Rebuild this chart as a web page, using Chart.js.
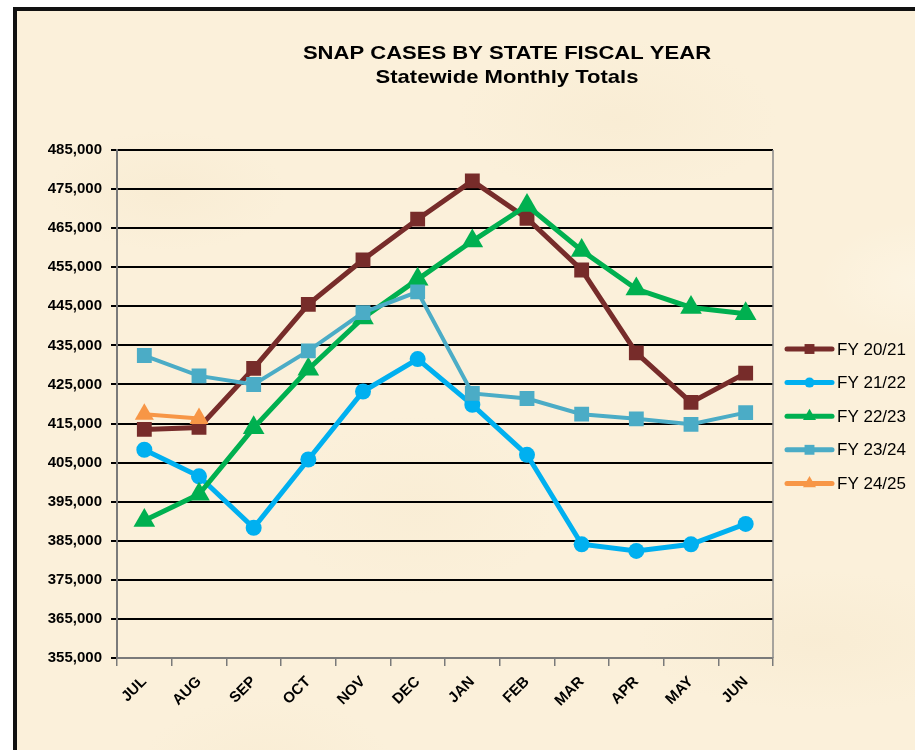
<!DOCTYPE html>
<html>
<head>
<meta charset="utf-8">
<title>SNAP Cases by State Fiscal Year</title>
<script src="https://cdn.jsdelivr.net/npm/chart.js@4.4.1/dist/chart.umd.min.js"></script>
<style>
  html, body { margin: 0; padding: 0; background: #fff; }
  #frame {
    position: absolute; left: 13px; top: 7px; width: 1000px; height: 900px;
    border-left: 4px solid #111; border-top: 4px solid #111;
    background-color: #fbf0da;
    background-image:
      radial-gradient(ellipse 120px 60px at 15% 20%, rgba(238,220,184,0.18), transparent),
      radial-gradient(ellipse 160px 80px at 60% 12%, rgba(240,224,190,0.2), transparent),
      radial-gradient(ellipse 140px 90px at 40% 55%, rgba(240,222,186,0.15), transparent),
      radial-gradient(ellipse 180px 70px at 80% 70%, rgba(238,220,184,0.18), transparent),
      radial-gradient(ellipse 130px 80px at 25% 85%, rgba(240,222,186,0.18), transparent),
      radial-gradient(ellipse 100px 60px at 90% 30%, rgba(255,250,238,0.4), transparent);
  }
  #chart { position: absolute; left: 0; top: 0; }
</style>
</head>
<body>
<div id="frame"></div>
<canvas id="chart" width="915" height="750"></canvas>
<script>
// --- data ---
const months = ['JUL', 'AUG', 'SEP', 'OCT', 'NOV', 'DEC', 'JAN', 'FEB', 'MAR', 'APR', 'MAY', 'JUN'];
const fy2021 = [413500, 414000, 429100, 445500, 456900, 467300, 477100, 467500, 454300, 433100, 420400, 427900];
const fy2122 = [408300, 401500, 388300, 405800, 423200, 431500, 419800, 407000, 384100, 382400, 384100, 389300];
const fy2223 = [390200, 396900, 413900, 428900, 442000, 451900, 461700, 470800, 459300, 449400, 444700, 443100];
const fy2324 = [432400, 427200, 425000, 433600, 443400, 448700, 422700, 421400, 417400, 416200, 414800, 417800];
const fy2425 = [417400, 416300];
const seriesNames = ['FY 20/21', 'FY 21/22', 'FY 22/23', 'FY 23/24', 'FY 24/25'];
const yMin = 355000, yMax = 485000, yStep = 10000;
const titleLines = ['SNAP CASES BY STATE FISCAL YEAR', 'Statewide Monthly Totals'];

const colors = ['#772c2a', '#00b0f0', '#00b050', '#4bacc6', '#f79646'];
const shapes = ['rect', 'circle', 'triangle', 'rect', 'triangle'];
const radii = [10.5, 8, 12.5, 10.5, 11];
const widths = [5, 5, 5, 4, 4];
const legendRadii = [7, 5, 7.5, 7, 7.5];

const FONT = 'Arial, "Liberation Sans", sans-serif';

// title + legend + right edge of the plot
const decor = {
  id: 'decor',
  beforeDatasetsDraw(chart) {
    const { ctx, chartArea: a } = chart;
    ctx.save();
    ctx.strokeStyle = '#8a8a8a';
    ctx.lineWidth = 1.5;
    ctx.beginPath();
    ctx.moveTo(a.right, a.top);
    ctx.lineTo(a.right, a.bottom);
    ctx.stroke();
    ctx.restore();
  },
  afterDraw(chart) {
    const ctx = chart.ctx;
    ctx.save();
    ctx.fillStyle = '#000';
    ctx.textAlign = 'center';
    ctx.textBaseline = 'middle';
    ctx.font = 'bold 19px ' + FONT;
    // the reference title is a little stretched sideways
    ctx.save();
    ctx.translate(507, 0);
    ctx.scale(1.16, 1);
    ctx.fillText(titleLines[0], 0, 54);
    ctx.fillText(titleLines[1], 0, 78);
    ctx.restore();

    ctx.textAlign = 'left';
    ctx.font = '17px ' + FONT;
    chart.data.datasets.forEach((ds, i) => {
      const y = 349 + i * 33.6;
      ctx.strokeStyle = ds.borderColor;
      ctx.fillStyle = ds.borderColor;
      ctx.lineWidth = 5;
      ctx.lineCap = 'round';
      ctx.beginPath();
      ctx.moveTo(787, y);
      ctx.lineTo(832, y);
      ctx.stroke();
      Chart.helpers.drawPoint(ctx, { pointStyle: shapes[i], radius: legendRadii[i], rotation: 0, borderWidth: 0 }, 809.5, y);
      ctx.fillStyle = '#000';
      ctx.fillText(ds.label, 837, y + 1);
    });
    ctx.restore();
  }
};

const seriesData = [fy2021, fy2122, fy2223, fy2324, fy2425];

new Chart(document.getElementById('chart'), {
  type: 'line',
  data: {
    labels: months,
    datasets: seriesData.map((d, i) => ({
      label: seriesNames[i],
      data: d,
      borderColor: colors[i],
      backgroundColor: colors[i],
      borderWidth: widths[i],
      pointStyle: shapes[i],
      pointRadius: radii[i],
      pointBorderWidth: 0,
      pointBackgroundColor: colors[i],
      tension: 0,
      fill: false,
      order: 5 - i
    }))
  },
  options: {
    responsive: false,
    animation: false,
    layout: { padding: { top: 150, right: 142, left: 0, bottom: 0 } },
    plugins: {
      legend: { display: false },
      title: { display: false },
      tooltip: { enabled: false }
    },
    scales: {
      x: {
        offset: true,
        afterFit: s => { s.height = 92; },
        grid: { display: true, drawOnChartArea: false, offset: true, tickLength: 8, color: '#7a7a7a', lineWidth: 1.5 },
        border: { color: '#7a7a7a', width: 2 },
        ticks: {
          minRotation: 45, maxRotation: 45, padding: 7,
          color: '#000',
          font: { family: FONT, size: 15, weight: 'bold' }
        }
      },
      y: {
        min: yMin, max: yMax,
        afterFit: s => { s.width = 117; },
        grid: { color: '#000', lineWidth: 2, tickLength: 6, tickColor: '#000' },
        border: { color: '#7a7a7a', width: 2 },
        ticks: {
          stepSize: yStep,
          padding: 9,
          color: '#000',
          font: { family: FONT, size: 15, weight: 'bold' },
          callback: v => v.toLocaleString('en-US')
        }
      }
    }
  },
  plugins: [decor]
});
</script>
</body>
</html>
